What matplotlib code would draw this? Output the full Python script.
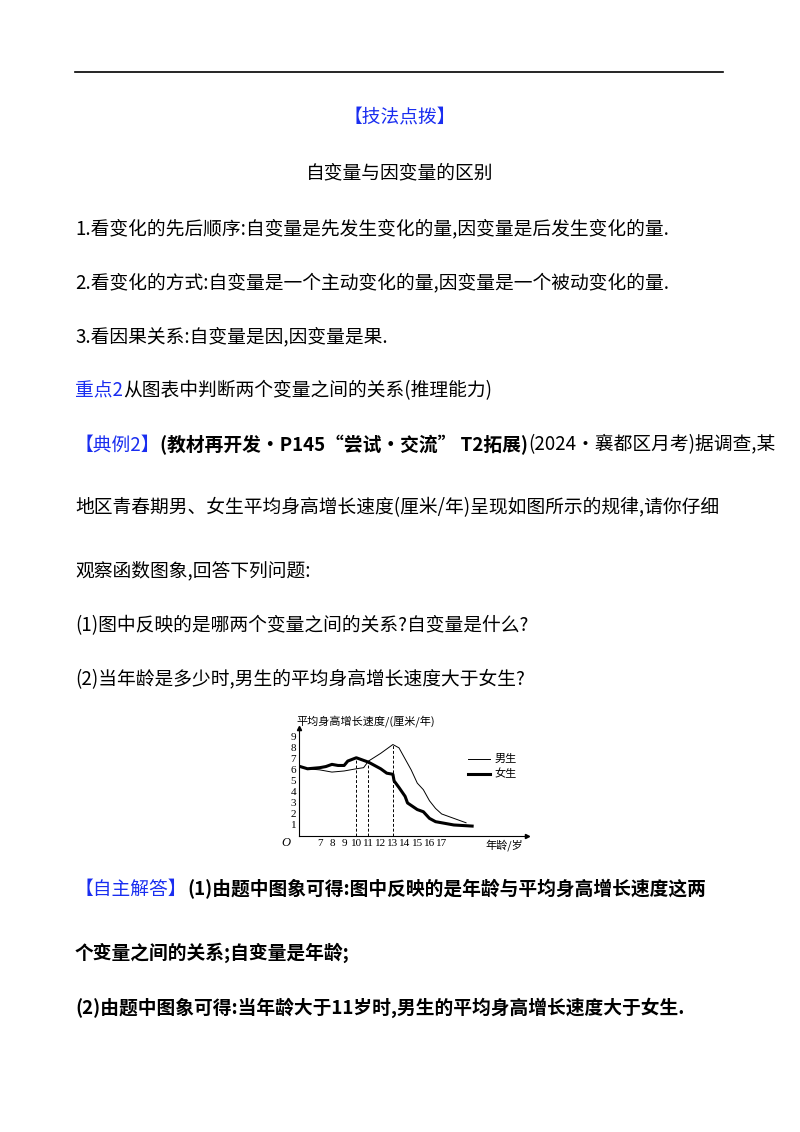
import matplotlib
matplotlib.use("Agg")
import matplotlib.pyplot as plt

plt.rcParams['font.family'] = ['Noto Sans CJK SC', 'DejaVu Sans']

# 图表数据
boy_age = [5.4, 6, 7, 8, 9, 10, 10.6, 11, 12, 13, 13.5, 14, 14.5, 15, 15.5, 16, 16.5, 17, 18, 19]
boy_speed = [6.3, 6.1, 6.0, 5.8, 5.9, 6.1, 6.2, 6.8, 7.5, 8.3, 8.0, 7.0, 6.0, 4.8, 4.2, 3.2, 2.5, 2.0, 1.6, 1.2]
girl_age = [5.4, 6, 7, 7.5, 8, 8.5, 9, 9.3, 10, 10.5, 11, 12, 12.5, 13, 13.1, 13.5, 14, 14.2, 15, 15.5, 16, 16.5, 17, 18, 19.5]
girl_speed = [6.3, 6.1, 6.2, 6.3, 6.5, 6.4, 6.4, 6.8, 7.1, 6.9, 6.7, 6.1, 5.7, 5.6, 5.0, 4.4, 3.6, 3.0, 2.4, 2.2, 1.6, 1.3, 1.2, 1.0, 0.9]
x_ticks = [7, 8, 9, 10, 11, 12, 13, 14, 15, 16, 17]
y_ticks = [1, 2, 3, 4, 5, 6, 7, 8, 9]
dash_points = [(10, 7.1), (11, 6.8), (13, 8.3)]

W, H = 800, 1132
fig = plt.figure(figsize=(8, 11.32), dpi=100)
BLUE = "#1a2ef0"
FS = 13.5


def line_segments(y, segs, x0=75, center=False):
    # segs: (文本, 颜色, 粗体)
    r = fig.canvas.get_renderer()
    texts = []
    x = x0
    for s, c, b in segs:
        t = fig.text(x / W, 1 - y / H, s, color=c, fontsize=FS, va="center",
                     fontweight="bold" if b else "normal")
        bb = t.get_window_extent(r)
        x += bb.width
        texts.append(t)
    if center:
        total = x - x0
        shift = (W - total) / 2 - x0
        for t in texts:
            px, py = t.get_position()
            t.set_position((px + shift / W, py))


fig.add_artist(plt.Line2D([75 / W, 723 / W], [1 - 72 / H, 1 - 72 / H], color="black", lw=1.2))
K = "black"
line_segments(118, [("【技法点拨】", BLUE, False)], center=True)
line_segments(173, [("自变量与因变量的区别", K, False)], center=True)
line_segments(229, [("1.看变化的先后顺序:自变量是先发生变化的量,因变量是后发生变化的量.", K, False)])
line_segments(283, [("2.看变化的方式:自变量是一个主动变化的量,因变量是一个被动变化的量.", K, False)])
line_segments(337, [("3.看因果关系:自变量是因,因变量是果.", K, False)])
line_segments(391, [("重点2", BLUE, False), ("从图表中判断两个变量之间的关系(推理能力)", K, False)])
line_segments(445, [("【典例2】", BLUE, False), ("(教材再开发·P145“尝试·交流” T2拓展)", K, True),
                    ("(2024·襄都区月考)据调查,某", K, False)])
line_segments(508, [("地区青春期男、女生平均身高增长速度(厘米/年)呈现如图所示的规律,请你仔细", K, False)])
line_segments(571, [("观察函数图象,回答下列问题:", K, False)])
line_segments(626, [("(1)图中反映的是哪两个变量之间的关系?自变量是什么?", K, False)])
line_segments(680, [("(2)当年龄是多少时,男生的平均身高增长速度大于女生?", K, False)])
line_segments(889, [("【自主解答】", BLUE, False), ("(1)由题中图象可得:图中反映的是年龄与平均身高增长速度这两", K, True)])
line_segments(953, [("个变量之间的关系;自变量是年龄;", K, True)])
line_segments(1008, [("(2)由题中图象可得:当年龄大于11岁时,男生的平均身高增长速度大于女生.", K, True)])

# 小图
ax = fig.add_axes([299 / W, 1 - 836 / H, 228 / W, 108 / H])
ax.set_xlim(5.3, 24)
ax.set_ylim(0, 9.8)
for s in ["top", "right"]:
    ax.spines[s].set_visible(False)
for s in ["left", "bottom"]:
    ax.spines[s].set_linewidth(0.8)
ax.plot(boy_age, boy_speed, color="black", lw=0.7)
ax.plot(girl_age, girl_speed, color="black", lw=2.2)
for xv, yv in dash_points:
    ax.plot([xv, xv], [0, yv], color="black", lw=0.7, ls=(0, (3, 2)))
ax.set_xticks(x_ticks)
ax.set_yticks(y_ticks)
ax.tick_params(length=0, labelsize=8, pad=2)
for lab in ax.get_xticklabels() + ax.get_yticklabels():
    lab.set_family("Liberation Serif")
ax.plot(1, 0, ">k", ms=3, transform=ax.transAxes, clip_on=False)
ax.plot(0, 1, "^k", ms=3, transform=ax.transAxes, clip_on=False)
ax.plot([19.2, 21.0], [7.0, 7.0], color="black", lw=0.7)
ax.plot([19.2, 21.0], [5.6, 5.6], color="black", lw=2.2)
ax.text(21.3, 7.0, "男生", fontsize=8, va="center")
ax.text(21.3, 5.6, "女生", fontsize=8, va="center")
fig.text(296 / W, 1 - 721 / H, "平均身高增长速度/(厘米/年)", fontsize=8, va="center")
fig.text(485 / W, 1 - 845 / H, "年龄/岁", fontsize=8, va="center")
fig.text(281 / W, 1 - 843 / H, "O", fontsize=9, va="center", style="italic", family="Liberation Serif")

fig.savefig("out.png", dpi=100)
